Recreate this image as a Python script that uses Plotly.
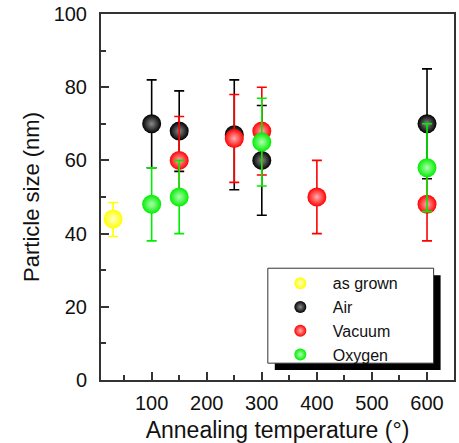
import plotly.graph_objects as go

# ---- data ----
asgrown_x = [30]
asgrown_y = [44]
asgrown_hi = [48.5]
asgrown_lo = [39.2]

air_x = [100, 150, 250, 300, 600]
air_y = [70, 68, 67, 60, 70]
air_hi = [82, 79, 82, 75, 85]
air_lo = [58, 57, 52, 45, 55]

vac_x = [150, 250, 300, 400, 600]
vac_y = [60, 66, 68, 50, 48]
vac_hi = [72, 78, 80, 60, 58]
vac_lo = [48, 54, 56, 40, 38]

oxy_x = [100, 150, 300, 600]
oxy_y = [48, 50, 65, 58]
oxy_hi = [58, 60, 77, 70]
oxy_lo = [38, 40, 53, 46]

series = [
    ("as grown", asgrown_x, asgrown_y, asgrown_hi, asgrown_lo, "#ffff00", "#ffffcc"),
    ("Air", air_x, air_y, air_hi, air_lo, "#000000", "#8a8a8a"),
    ("Vacuum", vac_x, vac_y, vac_hi, vac_lo, "#ff0000", "#ffb0b0"),
    ("Oxygen", oxy_x, oxy_y, oxy_hi, oxy_lo, "#00ee00", "#b0ffb0"),
]

FONT = "Liberation Sans, Arial, sans-serif"

fig = go.Figure()
for name, xs, ys, hi, lo, col, grad in series:
    fig.add_trace(go.Scatter(
        x=xs, y=ys, mode="markers", name=name,
        error_y=dict(type="data", symmetric=False,
                     array=[h - v for h, v in zip(hi, ys)],
                     arrayminus=[v - l for l, v in zip(lo, ys)],
                     color=col, thickness=1.6, width=5),
        marker=dict(size=19, color=col, line=dict(width=0),
                    gradient=dict(type="radial", color=grad)),
    ))

axis_common = dict(
    showline=True, linecolor="#333333", linewidth=2, mirror=True,
    ticks="inside", tickcolor="#333333", tickwidth=1.5, ticklen=8,
    showgrid=False, zeroline=False,
    tickfont=dict(family=FONT, size=20, color="#111111"),
)

fig.update_xaxes(
    range=[8, 649], tickvals=[100, 200, 300, 400, 500, 600],
    minor=dict(ticks="inside", ticklen=5, dtick=50, tick0=0, tickcolor="#333333", tickwidth=1.5),
    title=dict(text="Annealing temperature (°)", font=dict(family=FONT, size=23, color="#111111"), standoff=10),
    ticklabelstandoff=4,
    **axis_common,
)
fig.update_yaxes(
    range=[0, 100], tickvals=[0, 20, 40, 60, 80, 100],
    minor=dict(ticks="inside", ticklen=5, dtick=10, tick0=0, tickcolor="#333333", tickwidth=1.5),
    title=dict(text="Particle size (nm)", font=dict(family=FONT, size=22, color="#111111"), standoff=8),
    ticklabelstandoff=8,
    **axis_common,
)

# legend drop shadow and legend frame
fig.add_shape(type="rect", xref="paper", yref="paper",
              x0=0.4923, x1=0.962, y0=0.027, y1=0.2865,
              fillcolor="black", line=dict(width=0), layer="above")
fig.add_shape(type="rect", xref="paper", yref="paper",
              x0=0.4726, x1=0.9423, y0=0.046, y1=0.3054,
              fillcolor="white", line=dict(width=1, color="#333333"), layer="above")

fig.update_layout(
    width=459, height=443,
    margin=dict(l=101, r=3, t=13, b=60),
    paper_bgcolor="white", plot_bgcolor="white",
    showlegend=True,
    legend=dict(x=0.4726, y=0.3108, xanchor="left", yanchor="top",
                bgcolor="rgba(0,0,0,0)", borderwidth=0,
                font=dict(family=FONT, size=16, color="#111111"),
                itemwidth=55, itemsizing="constant", tracegroupgap=0),
)

fig.write_html("out.html")
